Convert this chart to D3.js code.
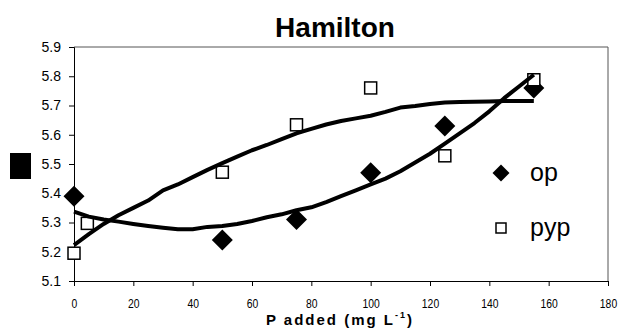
<!DOCTYPE html>
<html>
<head>
<meta charset="utf-8">
<script src="https://cdn.jsdelivr.net/npm/d3@7"></script>
<style>
    body { margin: 0; background: #fff; }
    svg { display: block; font-family: "Liberation Sans", Arial, sans-serif; }
</style>
</head>
<body>
<div id="chart"></div>
<script>
// measured points
const opX = [0, 50, 75, 100, 125, 155];
const opY = [5.39, 5.24, 5.31, 5.47, 5.63, 5.76];
const pypX = [0, 4.5, 50, 75, 100, 125, 155];
const pypY = [5.195, 5.297, 5.472, 5.634, 5.76, 5.528, 5.788];

// fitted curves
const fitX = [0, 5, 10, 15, 20, 25, 30, 35, 40, 45, 50, 55, 60, 65, 70, 75,
    80, 85, 90, 95, 100, 105, 110, 115, 120, 125, 130, 135, 140, 145, 150, 155];
const opFit = [5.337, 5.32, 5.31, 5.303, 5.295, 5.288, 5.282, 5.277, 5.277, 5.285, 5.288, 5.295,
    5.305, 5.318, 5.328, 5.342, 5.352, 5.37, 5.39, 5.41, 5.43, 5.45, 5.475, 5.505,
    5.535, 5.57, 5.605, 5.64, 5.68, 5.725, 5.765, 5.805];
const pypFit = [5.223, 5.26, 5.295, 5.325, 5.35, 5.375, 5.41, 5.43, 5.455, 5.48, 5.503, 5.525,
    5.547, 5.565, 5.585, 5.605, 5.62, 5.635, 5.647, 5.656, 5.665, 5.678, 5.693, 5.698,
    5.705, 5.71, 5.712, 5.713, 5.714, 5.715, 5.715, 5.715];

const xTicks = [0, 20, 40, 60, 80, 100, 120, 140, 160, 180];
const yTicks = [5.1, 5.2, 5.3, 5.4, 5.5, 5.6, 5.7, 5.8, 5.9];
const seriesNames = ['op', 'pyp'];

const width = 619, height = 329;
const margin = { top: 47, right: 11, bottom: 48, left: 74 };

const svg = d3.select('#chart').append('svg')
    .attr('width', width)
    .attr('height', height);

const xScale = d3.scaleLinear().domain([0, 180]).range([margin.left, width - margin.right]);
const yScale = d3.scaleLinear().domain([5.1, 5.9]).range([height - margin.bottom, margin.top]);

// plot frame (top and right)
svg.append('path')
    .attr('d', `M${xScale(0)},${yScale(5.9)}H${xScale(180)}V${yScale(5.1)}`)
    .attr('fill', 'none')
    .attr('stroke', '#555')
    .attr('stroke-width', 1);

const xAxis = svg.append('g')
    .attr('transform', `translate(0,${yScale(5.1)})`)
    .call(d3.axisBottom(xScale).tickValues(xTicks).tickSize(5).tickPadding(13).tickFormat(d3.format('d')));
xAxis.selectAll('text')
    .attr('font-size', 12.5)
    .attr('transform', 'scale(0.83,1)');

const yAxis = svg.append('g')
    .attr('transform', `translate(${xScale(0)},0)`)
    .call(d3.axisLeft(yScale).tickValues(yTicks).tickSize(5).tickPadding(8).tickFormat(d3.format('.1f')));
yAxis.selectAll('text').attr('font-size', 14);

svg.selectAll('.domain').attr('stroke', '#000');
svg.selectAll('.tick line').attr('stroke', '#000');
svg.selectAll('.tick text').attr('fill', '#000').attr('font-family', '"Liberation Sans", Arial, sans-serif');

// title
svg.append('text')
    .attr('x', 335)
    .attr('y', 37)
    .attr('text-anchor', 'middle')
    .attr('font-size', 28)
    .attr('font-weight', 'bold')
    .text('Hamilton');

// x label
const xLabel = svg.append('text')
    .attr('x', 340)
    .attr('y', 325)
    .attr('text-anchor', 'middle')
    .attr('font-size', 15)
    .attr('font-weight', 'bold')
    .attr('letter-spacing', 2);
xLabel.append('tspan').text('P added (mg L');
xLabel.append('tspan').attr('font-size', 9).attr('dy', -7).text('-1');
xLabel.append('tspan').attr('dy', 7).text(')');

// y label placeholder glyph
svg.append('rect')
    .attr('x', 10).attr('y', 153)
    .attr('width', 21).attr('height', 26)
    .attr('fill', '#000');

const diamond = r => `M0,${-r}L${r},0L0,${r}L${-r},0Z`;

// markers
svg.selectAll('.op')
    .data(opX.map((x, i) => [x, opY[i]]))
    .join('path')
    .attr('class', 'op')
    .attr('transform', d => `translate(${xScale(d[0])},${yScale(d[1])})`)
    .attr('d', diamond(10.5))
    .attr('fill', '#000');

svg.selectAll('.pyp')
    .data(pypX.map((x, i) => [x, pypY[i]]))
    .join('rect')
    .attr('class', 'pyp')
    .attr('x', d => xScale(d[0]) - 6)
    .attr('y', d => yScale(d[1]) - 6)
    .attr('width', 12)
    .attr('height', 12)
    .attr('fill', '#fff')
    .attr('stroke', '#000')
    .attr('stroke-width', 1.5);

// trend lines
const lineGen = d3.line()
    .x(d => xScale(d[0]))
    .y(d => yScale(d[1]));

[opFit, pypFit].forEach(fit => {
    svg.append('path')
        .datum(fitX.map((x, i) => [x, fit[i]]))
        .attr('d', lineGen)
        .attr('fill', 'none')
        .attr('stroke', '#000')
        .attr('stroke-width', 4)
        .attr('stroke-linejoin', 'round');
});

// legend
const legend = svg.append('g').attr('transform', 'translate(501,173)');
legend.append('path').attr('d', diamond(8.5)).attr('fill', '#000');
legend.append('rect')
    .attr('x', -5).attr('y', 50).attr('width', 10).attr('height', 10)
    .attr('fill', '#fff').attr('stroke', '#000').attr('stroke-width', 1.5);
legend.selectAll('.lab')
    .data(seriesNames)
    .join('text')
    .attr('class', 'lab')
    .attr('x', 29)
    .attr('y', (d, i) => i * 55 + 8)
    .attr('font-size', 25)
    .text(d => d);
</script>
</body>
</html>
